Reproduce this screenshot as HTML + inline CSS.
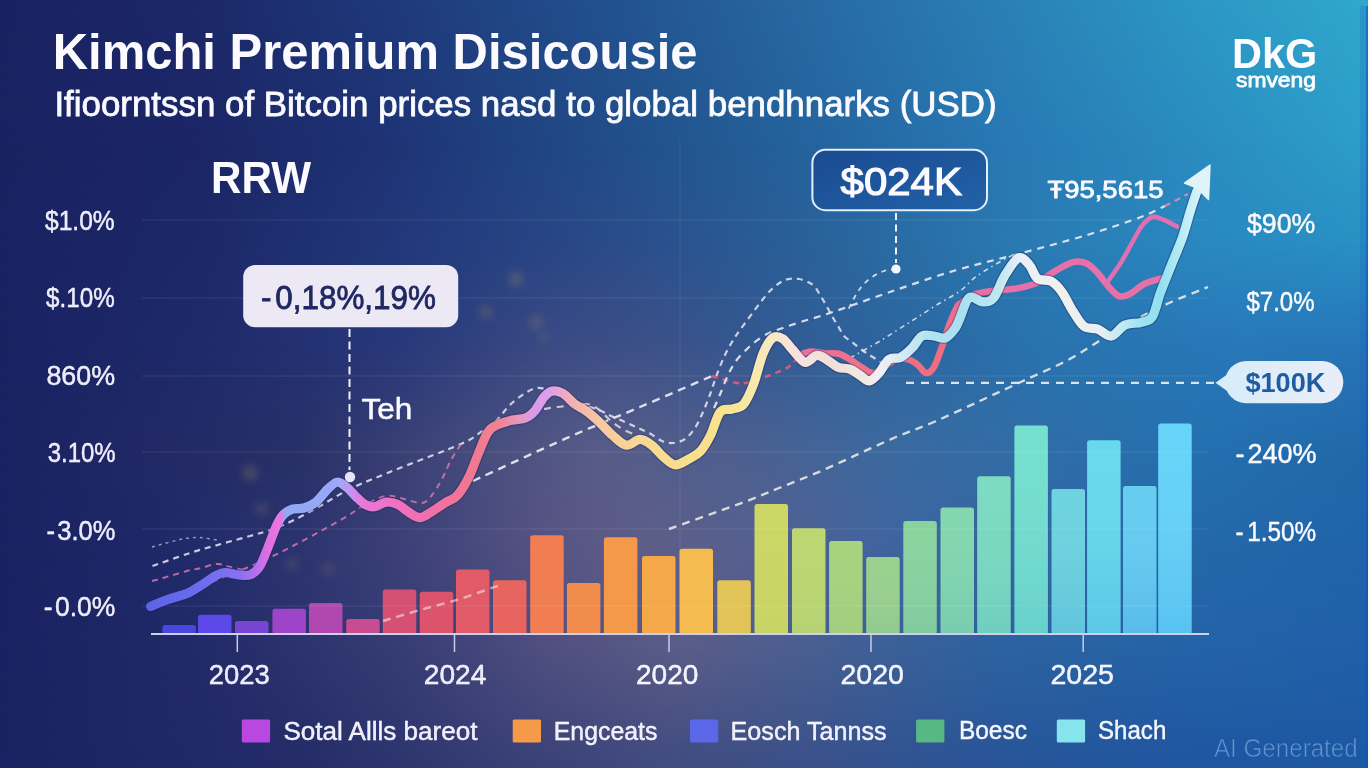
<!DOCTYPE html>
<html><head><meta charset="utf-8"><title>Kimchi Premium</title>
<style>
html,body{margin:0;padding:0;width:1368px;height:768px;overflow:hidden;background:#1a2462}
.bgl{position:absolute;left:0;top:0;width:1368px;height:768px}
svg{position:absolute;left:0;top:0}
text{font-family:"Liberation Sans","DejaVu Sans",sans-serif}
</style></head><body>
<div class="bgl" style="background:linear-gradient(90deg,#1a2262 0px,#1c2868 200px,#1f3a7c 400px,#22508e 600px,#2868a2 800px,#2a80b4 1000px,#2c98c4 1200px,#30a8cc 1368px);"></div>
<div class="bgl" style="background:linear-gradient(90deg,#1a2262 0px,#1b2666 200px,#1e3274 380px,#22568f 684px,#2878b4 1000px,#2a8cc0 1200px,#2c9ec8 1368px);-webkit-mask-image:linear-gradient(180deg, transparent 0px, #000 145px);mask-image:linear-gradient(180deg, transparent 0px, #000 145px);"></div>
<div class="bgl" style="background:linear-gradient(90deg,#1a2262 0px,#1c2868 200px,#22387a 400px,#2a4a88 600px,#2a6098 800px,#2a78b0 1000px,#2a88c0 1200px,#2890c4 1368px);-webkit-mask-image:linear-gradient(180deg, transparent 145px, #000 245px);mask-image:linear-gradient(180deg, transparent 145px, #000 245px);"></div>
<div class="bgl" style="background:linear-gradient(90deg,#1a2262 0px,#1e2a6a 200px,#28387a 400px,#3a4a84 550px,#3c5088 650px,#345890 750px,#2c66a0 900px,#2874b0 1050px,#2878b8 1250px,#2676b8 1368px);-webkit-mask-image:linear-gradient(180deg, transparent 245px, #000 342px);mask-image:linear-gradient(180deg, transparent 245px, #000 342px);"></div>
<div class="bgl" style="background:linear-gradient(90deg,#1a2262 0px,#283068 300px,#4a5080 500px,#585c88 600px,#4c6090 750px,#3a6aa0 900px,#2470b0 1200px,#2268a8 1368px);-webkit-mask-image:linear-gradient(180deg, transparent 342px, #000 450px);mask-image:linear-gradient(180deg, transparent 342px, #000 450px);"></div>
<div class="bgl" style="background:linear-gradient(90deg,#1a2262 0px,#1e2868 150px,#2c3470 300px,#44467c 450px,#585484 550px,#5e5e88 650px,#566090 750px,#3e64a0 900px,#2468a8 1200px,#2064a8 1368px);-webkit-mask-image:linear-gradient(180deg, transparent 450px, #000 548px);mask-image:linear-gradient(180deg, transparent 450px, #000 548px);"></div>
<div class="bgl" style="background:linear-gradient(90deg,#1a2262 0px,#222a68 200px,#363c74 400px,#504f80 550px,#5a5c88 680px,#4a5e90 800px,#3a6098 900px,#2c62a0 1000px,#2462a8 1200px,#2060a8 1368px);-webkit-mask-image:linear-gradient(180deg, transparent 548px, #000 650px);mask-image:linear-gradient(180deg, transparent 548px, #000 650px);"></div>
<div class="bgl" style="background:linear-gradient(90deg,#1a2262 0px,#242c68 300px,#363e74 500px,#404a7e 650px,#3a5088 800px,#285498 1000px,#1e56a0 1200px,#1c58a0 1368px);-webkit-mask-image:linear-gradient(180deg, transparent 650px, #000 768px);mask-image:linear-gradient(180deg, transparent 650px, #000 768px);"></div>
<svg width="1368" height="768" viewBox="0 0 1368 768">
<defs>
<linearGradient id="lineg" gradientUnits="userSpaceOnUse" x1="150" y1="0" x2="1210" y2="0">
<stop offset="0.0000" stop-color="#5c64e4"/>
<stop offset="0.0472" stop-color="#6a6cf0"/>
<stop offset="0.0849" stop-color="#8a70f0"/>
<stop offset="0.0991" stop-color="#b070f0"/>
<stop offset="0.1113" stop-color="#e070e0"/>
<stop offset="0.1236" stop-color="#e878e0"/>
<stop offset="0.1274" stop-color="#92a8f2"/>
<stop offset="0.1698" stop-color="#98a8f8"/>
<stop offset="0.1792" stop-color="#a4a8f8"/>
<stop offset="0.1906" stop-color="#c890f0"/>
<stop offset="0.2000" stop-color="#e878d8"/>
<stop offset="0.2358" stop-color="#f070c0"/>
<stop offset="0.2642" stop-color="#f070a8"/>
<stop offset="0.3019" stop-color="#f07890"/>
<stop offset="0.3302" stop-color="#f08494"/>
<stop offset="0.3491" stop-color="#e898c0"/>
<stop offset="0.3632" stop-color="#d89ae8"/>
<stop offset="0.3792" stop-color="#e0a0e8"/>
<stop offset="0.3962" stop-color="#f0b0b0"/>
<stop offset="0.4245" stop-color="#f8c8a0"/>
<stop offset="0.4623" stop-color="#f8d894"/>
<stop offset="0.5189" stop-color="#f8e08c"/>
<stop offset="0.5472" stop-color="#f8e490"/>
<stop offset="0.5660" stop-color="#f8e8a8"/>
<stop offset="0.5896" stop-color="#f8e8c8"/>
<stop offset="0.6132" stop-color="#f8e0e0"/>
<stop offset="0.6415" stop-color="#f0e0d8"/>
<stop offset="0.6698" stop-color="#f0e8e0"/>
<stop offset="0.6887" stop-color="#f0f0f4"/>
<stop offset="0.7170" stop-color="#c8e8f4"/>
<stop offset="0.7358" stop-color="#b0e4f0"/>
<stop offset="0.7642" stop-color="#a8e0f0"/>
<stop offset="0.8019" stop-color="#c0e8f0"/>
<stop offset="0.8208" stop-color="#e8f0f8"/>
<stop offset="0.8585" stop-color="#f0f0ec"/>
<stop offset="0.8962" stop-color="#e8f0f4"/>
<stop offset="0.9340" stop-color="#a0e4f0"/>
<stop offset="0.9528" stop-color="#90e0f0"/>
<stop offset="0.9811" stop-color="#c8f0f8"/>
<stop offset="1.0000" stop-color="#e0f4f8"/>
</linearGradient>
<linearGradient id="pinkg" gradientUnits="userSpaceOnUse" x1="799" y1="0" x2="1180" y2="0">
<stop offset="0" stop-color="#e8709c"/><stop offset="0.2" stop-color="#f07088"/><stop offset="0.36" stop-color="#f06c80"/><stop offset="0.5" stop-color="#e870a8"/><stop offset="1" stop-color="#e870a8"/>
</linearGradient>
<linearGradient id="barov" x1="0" y1="0" x2="0" y2="1">
<stop offset="0" stop-color="#ffffff" stop-opacity="0.04"/><stop offset="1" stop-color="#2f6cc8" stop-opacity="0.16"/>
</linearGradient>
<linearGradient id="box2" x1="0" y1="0" x2="1" y2="1"><stop offset="0" stop-color="#1a4a90"/><stop offset="1" stop-color="#2262a8"/></linearGradient>
<linearGradient id="box3" x1="0" y1="0" x2="1" y2="0"><stop offset="0" stop-color="#d8ecfa"/><stop offset="1" stop-color="#e8eef8"/></linearGradient>
<filter id="soft" x="-50%" y="-50%" width="200%" height="200%"><feGaussianBlur stdDeviation="5"/></filter>
</defs>
<circle cx="250" cy="473" r="7" fill="#b09a60" opacity="0.30" filter="url(#soft)"/>
<circle cx="262" cy="509" r="6" fill="#b09a60" opacity="0.25" filter="url(#soft)"/>
<circle cx="292" cy="564" r="6" fill="#b09a60" opacity="0.20" filter="url(#soft)"/>
<circle cx="328" cy="569" r="6" fill="#b09a60" opacity="0.20" filter="url(#soft)"/>
<circle cx="516" cy="279" r="7" fill="#b09a60" opacity="0.32" filter="url(#soft)"/>
<circle cx="486" cy="312" r="6" fill="#b09a60" opacity="0.30" filter="url(#soft)"/>
<circle cx="536" cy="322" r="6" fill="#b09a60" opacity="0.32" filter="url(#soft)"/>
<circle cx="544" cy="338" r="4" fill="#b09a60" opacity="0.25" filter="url(#soft)"/>
<line x1="680" y1="140" x2="680" y2="632" stroke="#ffffff" stroke-opacity="0.07" stroke-width="1.2"/>
<rect x="162.4" y="625.1" width="33.5" height="8.9" rx="2.5" fill="#4a46e0"/>
<rect x="198.0" y="614.8" width="33.5" height="19.2" rx="2.5" fill="#5a48e8"/>
<rect x="235.0" y="621.0" width="33.5" height="13.0" rx="2.5" fill="#7a44d2"/>
<rect x="272.4" y="608.7" width="33.5" height="25.3" rx="2.5" fill="#9e44c8"/>
<rect x="309.0" y="603.1" width="33.5" height="30.9" rx="2.5" fill="#b048b0"/>
<rect x="346.2" y="619.0" width="33.5" height="15.0" rx="2.5" fill="#c84c92"/>
<rect x="382.8" y="589.4" width="33.5" height="44.6" rx="2.5" fill="#d65074"/>
<rect x="419.7" y="591.7" width="33.5" height="42.3" rx="2.5" fill="#dc546c"/>
<rect x="456.0" y="569.4" width="33.5" height="64.6" rx="2.5" fill="#e05a68"/>
<rect x="493.0" y="580.3" width="33.5" height="53.7" rx="2.5" fill="#e8645e"/>
<rect x="530.2" y="535.3" width="33.5" height="98.7" rx="2.5" fill="#f07e52"/>
<rect x="566.9" y="583.1" width="33.5" height="50.9" rx="2.5" fill="#f28c4c"/>
<rect x="603.9" y="537.3" width="33.5" height="96.7" rx="2.5" fill="#f4984a"/>
<rect x="642.0" y="555.9" width="33.5" height="78.1" rx="2.5" fill="#f4a84a"/>
<rect x="679.5" y="548.7" width="33.5" height="85.3" rx="2.5" fill="#f4bc50"/>
<rect x="717.3" y="580.3" width="33.5" height="53.7" rx="2.5" fill="#e2c458"/>
<rect x="717.3" y="580.3" width="33.5" height="53.7" rx="2.5" fill="url(#barov)" opacity="0.04"/>
<rect x="754.5" y="504.0" width="33.5" height="130.0" rx="2.5" fill="#ccd664"/>
<rect x="754.5" y="504.0" width="33.5" height="130.0" rx="2.5" fill="url(#barov)" opacity="0.14"/>
<rect x="792.0" y="528.2" width="33.5" height="105.8" rx="2.5" fill="#bcd670"/>
<rect x="792.0" y="528.2" width="33.5" height="105.8" rx="2.5" fill="url(#barov)" opacity="0.23"/>
<rect x="829.1" y="541.1" width="33.5" height="92.9" rx="2.5" fill="#a8d27c"/>
<rect x="829.1" y="541.1" width="33.5" height="92.9" rx="2.5" fill="url(#barov)" opacity="0.32"/>
<rect x="866.2" y="557.1" width="33.5" height="76.9" rx="2.5" fill="#98d08c"/>
<rect x="866.2" y="557.1" width="33.5" height="76.9" rx="2.5" fill="url(#barov)" opacity="0.42"/>
<rect x="903.3" y="521.1" width="33.5" height="112.9" rx="2.5" fill="#88d29c"/>
<rect x="903.3" y="521.1" width="33.5" height="112.9" rx="2.5" fill="url(#barov)" opacity="0.51"/>
<rect x="940.5" y="507.5" width="33.5" height="126.5" rx="2.5" fill="#80d6ac"/>
<rect x="940.5" y="507.5" width="33.5" height="126.5" rx="2.5" fill="url(#barov)" opacity="0.60"/>
<rect x="977.2" y="476.2" width="33.5" height="157.8" rx="2.5" fill="#78dabe"/>
<rect x="977.2" y="476.2" width="33.5" height="157.8" rx="2.5" fill="url(#barov)" opacity="0.69"/>
<rect x="1014.4" y="425.4" width="33.5" height="208.6" rx="2.5" fill="#70dfcc"/>
<rect x="1014.4" y="425.4" width="33.5" height="208.6" rx="2.5" fill="url(#barov)" opacity="0.79"/>
<rect x="1051.5" y="489.0" width="33.5" height="145.0" rx="2.5" fill="#68d2de"/>
<rect x="1051.5" y="489.0" width="33.5" height="145.0" rx="2.5" fill="url(#barov)" opacity="0.88"/>
<rect x="1087.1" y="440.2" width="33.5" height="193.8" rx="2.5" fill="#62d8ec"/>
<rect x="1087.1" y="440.2" width="33.5" height="193.8" rx="2.5" fill="url(#barov)" opacity="0.97"/>
<rect x="1123.0" y="486.0" width="33.5" height="148.0" rx="2.5" fill="#60caf0"/>
<rect x="1123.0" y="486.0" width="33.5" height="148.0" rx="2.5" fill="url(#barov)" opacity="1.00"/>
<rect x="1158.2" y="423.4" width="33.5" height="210.6" rx="2.5" fill="#60d2f8"/>
<rect x="1158.2" y="423.4" width="33.5" height="210.6" rx="2.5" fill="url(#barov)" opacity="1.00"/>
<line x1="142" y1="220" x2="1207" y2="220" stroke="#ffffff" stroke-opacity="0.10" stroke-width="1.2"/>
<line x1="142" y1="298" x2="1207" y2="298" stroke="#ffffff" stroke-opacity="0.10" stroke-width="1.2"/>
<line x1="142" y1="376" x2="1207" y2="376" stroke="#ffffff" stroke-opacity="0.10" stroke-width="1.2"/>
<line x1="142" y1="452" x2="1207" y2="452" stroke="#ffffff" stroke-opacity="0.10" stroke-width="1.2"/>
<line x1="142" y1="529" x2="1207" y2="529" stroke="#ffffff" stroke-opacity="0.10" stroke-width="1.2"/>
<line x1="142" y1="606" x2="1207" y2="606" stroke="#ffffff" stroke-opacity="0.10" stroke-width="1.2"/>
<line x1="151" y1="634" x2="1209" y2="634" stroke="#cdd0ea" stroke-width="2"/>
<line x1="237.3" y1="635" x2="237.3" y2="652" stroke="#c8cce4" stroke-width="1.5"/>
<line x1="454.5" y1="635" x2="454.5" y2="652" stroke="#c8cce4" stroke-width="1.5"/>
<line x1="669.0" y1="635" x2="669.0" y2="652" stroke="#c8cce4" stroke-width="1.5"/>
<line x1="871.0" y1="635" x2="871.0" y2="652" stroke="#c8cce4" stroke-width="1.5"/>
<line x1="1083.2" y1="635" x2="1083.2" y2="652" stroke="#c8cce4" stroke-width="1.5"/>
<path d="M152.5,566.0 C158.8,563.8 178.2,556.8 190.0,553.0 C201.8,549.2 213.0,546.3 223.0,543.5 C233.0,540.7 242.2,538.2 250.0,536.0 C257.8,533.8 263.0,532.5 270.0,530.0 C277.0,527.5 283.7,525.0 292.0,521.0 C300.3,517.0 310.0,511.5 320.0,506.0 C330.0,500.5 338.7,494.3 352.0,488.0 C365.3,481.7 381.8,475.3 400.0,468.0 C418.2,460.7 447.5,450.0 461.0,444.0 C474.5,438.0 475.2,435.8 481.0,432.0 C486.8,428.2 490.8,425.8 496.0,421.0 C501.2,416.2 505.8,408.3 512.0,403.0 C518.2,397.7 527.0,391.2 533.0,389.0 C539.0,386.8 541.2,387.8 548.0,390.0 C554.8,392.2 565.5,398.7 574.0,402.0 C582.5,405.3 592.8,407.7 599.0,410.0 C605.2,412.3 606.7,414.0 611.0,416.0 C615.3,418.0 620.5,420.0 625.0,422.0 C629.5,424.0 633.8,426.1 638.0,428.0 C642.2,429.9 646.0,431.3 650.0,433.5 C654.0,435.7 658.2,439.4 662.0,441.0 C665.8,442.6 669.2,443.3 673.0,443.0 C676.8,442.7 681.3,441.5 685.0,439.0 C688.7,436.5 692.0,432.5 695.0,428.0 C698.0,423.5 700.5,417.6 703.0,412.0 C705.5,406.4 707.8,400.3 710.0,394.5 C712.2,388.7 713.7,383.2 716.0,377.0 C718.3,370.8 721.3,362.8 724.0,357.0 C726.7,351.2 729.3,346.5 732.0,342.0 C734.7,337.5 735.3,336.5 740.0,330.0 C744.7,323.5 754.7,309.8 760.0,303.0 C765.3,296.2 767.8,292.8 772.0,289.0 C776.2,285.2 780.5,281.7 785.0,280.0 C789.5,278.3 794.3,278.2 799.0,279.0 C803.7,279.8 809.5,282.3 813.0,285.0 C816.5,287.7 817.8,291.7 820.0,295.0 C822.2,298.3 824.0,301.5 826.0,305.0 C828.0,308.5 830.0,312.5 832.0,316.0 C834.0,319.5 836.0,322.7 838.0,326.0 C840.0,329.3 841.7,333.3 844.0,336.0 C846.3,338.7 849.0,339.7 852.0,342.0 C855.0,344.3 858.8,347.7 862.0,350.0 C865.2,352.3 868.2,354.2 871.0,356.0 C873.8,357.8 876.7,359.5 879.0,361.0 C881.3,362.5 884.0,364.3 885.0,365.0" fill="none" stroke="#e8e6f6" stroke-width="2.2" stroke-dasharray="6 5" stroke-opacity="0.85" stroke-linecap="butt"/>
<path d="M152.0,581.0 C153.8,580.5 157.2,579.7 163.0,578.0 C168.8,576.3 180.7,572.7 187.0,571.0 C193.3,569.3 196.0,569.2 201.0,568.0 C206.0,566.8 212.3,564.2 217.0,564.0 C221.7,563.8 224.7,565.6 229.0,566.6 C233.3,567.6 240.7,569.4 243.0,570.0" fill="none" stroke="#d070a8" stroke-width="2.0" stroke-dasharray="6 5" stroke-opacity="0.90" stroke-linecap="butt"/>
<path d="M212.0,582.0 C221.8,577.8 249.8,567.2 271.0,557.0 C292.2,546.8 323.7,529.5 339.0,521.0 C354.3,512.5 355.2,510.2 363.0,506.0 C370.8,501.8 379.2,497.2 386.0,496.0 C392.8,494.8 398.0,497.8 404.0,499.0 C410.0,500.2 417.3,503.7 422.0,503.0 C426.7,502.3 428.7,499.0 432.0,495.0 C435.3,491.0 438.8,484.8 442.0,479.0 C445.2,473.2 447.8,465.8 451.0,460.0 C454.2,454.2 459.3,446.7 461.0,444.0" fill="none" stroke="#d877a8" stroke-width="2.0" stroke-dasharray="6 5" stroke-opacity="0.85" stroke-linecap="butt"/>
<path d="M152.0,547.0 C155.0,546.2 164.5,543.4 170.0,542.0 C175.5,540.6 180.0,539.2 185.0,538.5 C190.0,537.8 194.7,537.2 200.0,537.5 C205.3,537.8 214.2,539.6 217.0,540.0" fill="none" stroke="#c8c8f0" stroke-width="1.4" stroke-dasharray="3 4" stroke-opacity="0.70" stroke-linecap="butt"/>
<path d="M473.0,481.0 C488.5,473.9 538.2,450.7 566.0,438.4 C593.8,426.1 615.7,417.4 640.0,407.0 C664.3,396.6 700.0,381.2 712.0,376.0" fill="none" stroke="#f0eef4" stroke-width="2.4" stroke-dasharray="8 6" stroke-opacity="0.90" stroke-linecap="butt"/>
<path d="M712.0,376.0 C715.3,377.0 726.3,380.8 732.0,382.0 C737.7,383.2 740.5,383.8 746.0,383.0 C751.5,382.2 758.5,379.3 765.0,377.0 C771.5,374.7 780.3,371.3 785.0,369.0 C789.7,366.7 790.7,365.2 793.0,363.0 C795.3,360.8 798.0,357.2 799.0,356.0" fill="none" stroke="#e05a80" stroke-width="2.6" stroke-dasharray="6 5" stroke-opacity="0.95" stroke-linecap="butt"/>
<path d="M544.0,409.0 C546.3,408.7 551.0,407.8 558.0,407.0 C565.0,406.2 579.3,403.7 586.0,404.0 C592.7,404.3 594.0,406.3 598.0,409.0 C602.0,411.7 605.7,416.5 610.0,420.0 C614.3,423.5 619.3,427.4 624.0,430.0 C628.7,432.6 635.7,434.6 638.0,435.5" fill="none" stroke="#f0d8d0" stroke-width="2.2" stroke-dasharray="7 6" stroke-opacity="0.85" stroke-linecap="butt"/>
<path d="M714.0,408.0 C715.0,405.8 717.7,400.0 720.0,394.5 C722.3,389.0 725.3,380.6 728.0,375.0 C730.7,369.4 733.0,365.2 736.0,361.0 C739.0,356.8 742.8,353.2 746.0,350.0 C749.2,346.8 751.5,344.7 755.0,342.0 C758.5,339.3 763.3,336.0 767.0,334.0 C770.7,332.0 771.7,331.9 777.0,330.0 C782.3,328.1 790.2,325.3 799.0,322.5 C807.8,319.7 814.8,318.1 830.0,313.0 C845.2,307.9 869.2,299.1 890.0,292.0 C910.8,284.9 933.7,276.8 955.0,270.5 C976.3,264.2 996.0,259.9 1018.0,254.0 C1040.0,248.1 1066.5,241.2 1087.0,235.0 C1107.5,228.8 1128.0,221.8 1141.0,217.0 C1154.0,212.2 1161.0,207.8 1165.0,206.0" fill="none" stroke="#ecebf4" stroke-width="2.2" stroke-dasharray="7 6" stroke-opacity="0.90" stroke-linecap="butt"/>
<path d="M1165.0,206.0 L1188.0,194.0" fill="none" stroke="#e888b0" stroke-width="2.2" stroke-dasharray="6 5" stroke-opacity="0.90" stroke-linecap="butt"/>
<path d="M850.0,358.0 C855.0,355.2 870.0,347.0 880.0,341.0 C890.0,335.0 900.8,327.8 910.0,322.0 C919.2,316.2 926.7,311.2 935.0,306.0 C943.3,300.8 953.0,296.0 960.0,291.0 C967.0,286.0 969.5,281.3 977.0,276.0 C984.5,270.7 998.2,262.7 1005.0,259.0 C1011.8,255.3 1015.8,254.8 1018.0,254.0" fill="none" stroke="#e8ecf6" stroke-width="1.6" stroke-dasharray="5 4 1.5 4" stroke-opacity="0.85" stroke-linecap="butt"/>
<path d="M383.0,621.0 C389.2,619.2 407.2,613.7 420.0,610.0 C432.8,606.3 446.7,603.2 460.0,599.0 C473.3,594.8 493.3,587.3 500.0,585.0" fill="none" stroke="#f4e8f0" stroke-width="2.4" stroke-dasharray="8 6" stroke-opacity="0.60" stroke-linecap="butt"/>
<path d="M669.0,529.0 C680.8,524.8 721.7,510.4 740.0,503.6 C758.3,496.8 766.0,493.2 779.0,488.0 C792.0,482.8 805.0,477.9 818.0,472.3 C831.0,466.8 844.0,460.6 857.0,454.7 C870.0,448.8 883.0,442.5 896.0,437.0 C909.0,431.5 920.7,427.7 935.0,421.5 C949.3,415.3 967.0,406.9 982.0,400.0 C997.0,393.1 1010.7,386.7 1025.0,380.0 C1039.3,373.3 1055.0,366.9 1068.0,360.0 C1081.0,353.1 1091.7,345.4 1103.0,338.7 C1114.3,331.9 1125.0,325.4 1136.0,319.5 C1147.0,313.6 1157.0,308.4 1169.0,303.0 C1181.0,297.6 1201.5,289.7 1208.0,287.0" fill="none" stroke="#f2f0e8" stroke-width="2.4" stroke-dasharray="8 6" stroke-opacity="0.85" stroke-linecap="butt"/>
<path d="M896.0,269.0 C894.0,269.3 888.0,269.7 884.0,271.0 C880.0,272.3 875.5,274.7 872.0,277.0 C868.5,279.3 865.5,282.3 863.0,285.0 C860.5,287.7 858.8,290.2 857.0,293.0 C855.2,295.8 853.5,299.2 852.0,302.0 C850.5,304.8 848.7,308.7 848.0,310.0" fill="none" stroke="#e8eef8" stroke-width="1.8" stroke-dasharray="5 5" stroke-opacity="0.85" stroke-linecap="butt"/>
<path d="M906,382.8 L1216,382.8" stroke="#eef2f8" stroke-width="2.2" stroke-dasharray="8 7" fill="none" opacity="0.9"/>
<path d="M896,213 L896,263" stroke="#eef2f8" stroke-width="2" stroke-dasharray="7 4.5" fill="none"/>
<path d="M349.5,329 L349.5,470" stroke="#eef0fa" stroke-width="2" stroke-dasharray="8 4.5" fill="none"/>
<path d="M799.0,355.5 C801.0,354.9 806.5,351.9 810.8,351.6 C815.0,351.3 820.0,353.2 824.5,353.5 C829.0,353.8 833.9,352.5 838.1,353.5 C842.3,354.5 845.9,357.1 849.8,359.4 C853.7,361.7 857.7,364.9 861.6,367.2 C865.5,369.5 869.4,373.2 873.3,373.0 C877.2,372.8 881.0,368.3 885.0,366.0 C889.0,363.7 893.1,360.1 897.0,359.0 C900.9,357.9 904.9,358.4 908.4,359.4 C911.9,360.4 915.3,362.9 918.2,365.2 C921.1,367.5 923.4,372.7 926.0,373.0 C928.6,373.3 931.2,371.4 933.8,367.2 C936.4,363.0 939.0,354.9 941.6,347.7 C944.2,340.5 946.9,331.0 949.5,324.2 C952.1,317.4 955.4,310.1 957.3,306.6 C959.2,303.1 957.7,305.3 961.0,303.1 C964.3,300.9 971.8,295.7 977.3,293.6 C982.8,291.6 986.9,291.7 993.8,290.8 C1000.6,289.9 1011.1,289.5 1018.4,288.1 C1025.7,286.7 1031.6,285.3 1037.5,282.6 C1043.4,279.9 1048.0,275.1 1053.9,271.7 C1059.8,268.3 1067.5,263.5 1073.0,262.1 C1078.5,260.7 1082.6,261.7 1086.7,263.5 C1090.8,265.3 1094.1,269.1 1097.7,273.0 C1101.3,276.9 1105.0,282.8 1108.6,286.7 C1112.2,290.6 1115.8,295.1 1119.5,296.3 C1123.2,297.5 1126.4,295.7 1130.5,293.6 C1134.6,291.6 1139.1,286.5 1144.1,284.0 C1149.1,281.5 1157.8,279.4 1160.6,278.5" fill="none" stroke="url(#pinkg)" stroke-width="6.5" stroke-linecap="round" stroke-linejoin="round"/>
<path d="M1106.0,284.0 C1108.2,280.8 1115.4,271.2 1119.5,264.8 C1123.6,258.4 1126.8,252.1 1130.5,245.7 C1134.2,239.3 1137.8,231.4 1141.4,226.6 C1145.0,221.8 1148.7,218.2 1152.3,217.0 C1155.9,215.8 1159.2,218.1 1163.3,219.7 C1167.4,221.3 1174.7,225.4 1177.0,226.6" fill="none" stroke="#e070b0" stroke-width="4.5" stroke-linecap="round" stroke-linejoin="round"/>
<path d="M150.6,606.5 C153.5,605.3 162.0,601.5 168.1,599.4 C174.2,597.2 181.4,595.9 186.9,593.6 C192.4,591.3 196.3,588.3 201.0,585.4 C205.7,582.5 211.1,578.1 215.0,576.0 C218.9,573.9 220.5,572.7 224.4,572.5 C228.3,572.3 234.2,574.4 238.5,574.8 C242.8,575.2 246.7,576.2 250.2,574.8 C253.7,573.4 256.7,571.1 259.6,566.6 C262.5,562.1 265.1,554.5 267.8,547.9 C270.5,541.3 273.5,532.3 276.0,526.8 C278.5,521.3 280.3,517.9 283.0,515.0 C285.7,512.1 288.9,510.4 292.4,509.2 C295.9,508.0 300.2,509.2 304.1,508.0 C308.0,506.8 312.0,505.2 315.9,502.1 C319.8,499.0 324.1,492.5 327.6,489.2 C331.1,485.9 333.9,482.6 337.0,482.2 C340.1,481.8 343.2,484.5 346.3,486.9 C349.4,489.2 352.6,493.4 355.7,496.3 C358.8,499.2 362.0,502.8 365.1,504.5 C368.2,506.2 371.0,507.2 374.5,506.8 C378.0,506.4 382.3,502.5 386.2,502.1 C390.1,501.7 394.2,502.9 397.9,504.5 C401.5,506.1 404.4,509.6 408.1,511.8 C411.8,514.0 416.0,517.6 419.9,517.6 C423.8,517.6 427.3,514.3 431.6,511.8 C435.9,509.3 441.4,505.1 445.7,502.4 C450.0,499.7 453.5,499.7 457.4,495.4 C461.3,491.1 465.6,483.6 469.1,476.6 C472.6,469.6 475.4,460.6 478.5,453.2 C481.6,445.8 484.8,436.8 487.9,432.1 C491.0,427.4 493.3,427.0 497.2,425.0 C501.1,423.0 506.6,421.5 511.3,420.3 C516.0,419.1 521.5,419.6 525.4,418.0 C529.3,416.4 531.6,414.5 534.7,411.0 C537.8,407.5 541.2,400.2 544.1,396.9 C547.0,393.6 549.2,391.6 552.3,391.0 C555.4,390.4 559.2,391.2 562.9,393.4 C566.6,395.5 570.7,401.0 574.6,403.9 C578.5,406.8 582.2,408.0 586.3,411.0 C590.4,414.0 594.6,417.7 599.0,421.8 C603.4,425.9 608.1,431.6 612.7,435.5 C617.3,439.4 621.9,444.6 626.4,445.2 C630.9,445.8 635.8,439.4 640.0,439.4 C644.2,439.4 647.9,442.3 651.8,445.2 C655.7,448.1 659.6,453.7 663.5,457.0 C667.4,460.3 671.0,464.5 675.2,464.8 C679.5,465.1 684.8,461.2 689.0,458.9 C693.2,456.6 697.0,455.0 700.6,451.1 C704.2,447.2 707.1,442.0 710.4,435.5 C713.7,429.0 716.6,416.4 720.2,412.0 C723.8,407.6 728.0,410.4 731.9,409.1 C735.8,407.8 740.0,408.3 743.6,404.2 C747.2,400.1 750.1,393.2 753.4,384.7 C756.6,376.2 759.9,361.2 763.1,353.4 C766.4,345.6 769.6,340.2 772.9,337.8 C776.2,335.4 779.5,336.9 782.7,338.8 C786.0,340.8 788.7,345.6 792.4,349.5 C796.1,353.4 800.9,361.3 804.9,362.3 C808.9,363.3 813.0,356.0 816.6,355.5 C820.2,355.0 822.8,357.4 826.4,359.4 C830.0,361.3 834.2,365.6 838.1,367.2 C842.0,368.8 846.2,367.8 849.8,369.1 C853.4,370.4 856.3,373.0 859.6,375.0 C862.9,377.0 866.1,381.2 869.4,380.9 C872.6,380.6 875.9,376.6 879.1,373.0 C882.4,369.4 885.3,362.0 888.9,359.4 C892.5,356.8 896.7,359.3 900.6,357.4 C904.5,355.4 908.7,351.3 912.3,347.7 C915.9,344.1 918.5,337.9 922.1,336.0 C925.7,334.1 929.9,335.7 933.8,336.0 C937.7,336.3 941.9,339.2 945.5,337.9 C949.1,336.6 952.9,331.4 955.3,328.1 C957.7,324.8 957.7,323.1 960.0,318.0 C962.3,312.9 965.3,300.4 969.1,297.7 C972.9,295.0 978.7,301.8 982.8,301.8 C986.9,301.8 990.1,302.0 993.8,297.7 C997.4,293.4 1000.6,282.4 1004.7,275.8 C1008.8,269.2 1014.3,259.8 1018.4,258.0 C1022.5,256.2 1026.1,261.4 1029.3,264.8 C1032.5,268.2 1033.8,275.8 1037.5,278.5 C1041.2,281.2 1047.1,279.0 1051.2,281.3 C1055.3,283.6 1058.5,287.2 1062.1,292.2 C1065.7,297.2 1069.3,305.6 1073.0,311.3 C1076.7,317.0 1079.9,323.4 1084.0,326.4 C1088.1,329.4 1093.2,327.5 1097.7,329.1 C1102.2,330.7 1106.8,336.7 1111.3,336.0 C1115.8,335.3 1120.0,327.3 1125.0,325.0 C1130.0,322.7 1136.9,323.7 1141.4,322.3 C1146.0,320.9 1149.1,321.8 1152.3,316.8 C1155.5,311.8 1157.4,300.9 1160.6,292.2 C1163.8,283.5 1167.9,273.9 1171.5,264.8 C1175.1,255.7 1179.2,246.6 1182.4,237.5 C1185.6,228.4 1188.2,217.9 1190.6,210.2 C1193.0,202.4 1195.9,194.2 1197.0,191.0" fill="none" stroke="#1c2258" stroke-opacity="0.35" stroke-width="11.6" stroke-linecap="round" stroke-linejoin="round"/>
<path d="M150.6,606.5 C153.5,605.3 162.0,601.5 168.1,599.4 C174.2,597.2 181.4,595.9 186.9,593.6 C192.4,591.3 196.3,588.3 201.0,585.4 C205.7,582.5 211.1,578.1 215.0,576.0 C218.9,573.9 220.5,572.7 224.4,572.5 C228.3,572.3 234.2,574.4 238.5,574.8 C242.8,575.2 246.7,576.2 250.2,574.8 C253.7,573.4 256.7,571.1 259.6,566.6 C262.5,562.1 265.1,554.5 267.8,547.9 C270.5,541.3 273.5,532.3 276.0,526.8 C278.5,521.3 280.3,517.9 283.0,515.0 C285.7,512.1 288.9,510.4 292.4,509.2 C295.9,508.0 300.2,509.2 304.1,508.0 C308.0,506.8 312.0,505.2 315.9,502.1 C319.8,499.0 324.1,492.5 327.6,489.2 C331.1,485.9 333.9,482.6 337.0,482.2 C340.1,481.8 343.2,484.5 346.3,486.9 C349.4,489.2 352.6,493.4 355.7,496.3 C358.8,499.2 362.0,502.8 365.1,504.5 C368.2,506.2 371.0,507.2 374.5,506.8 C378.0,506.4 382.3,502.5 386.2,502.1 C390.1,501.7 394.2,502.9 397.9,504.5 C401.5,506.1 404.4,509.6 408.1,511.8 C411.8,514.0 416.0,517.6 419.9,517.6 C423.8,517.6 427.3,514.3 431.6,511.8 C435.9,509.3 441.4,505.1 445.7,502.4 C450.0,499.7 453.5,499.7 457.4,495.4 C461.3,491.1 465.6,483.6 469.1,476.6 C472.6,469.6 475.4,460.6 478.5,453.2 C481.6,445.8 484.8,436.8 487.9,432.1 C491.0,427.4 493.3,427.0 497.2,425.0 C501.1,423.0 506.6,421.5 511.3,420.3 C516.0,419.1 521.5,419.6 525.4,418.0 C529.3,416.4 531.6,414.5 534.7,411.0 C537.8,407.5 541.2,400.2 544.1,396.9 C547.0,393.6 549.2,391.6 552.3,391.0 C555.4,390.4 559.2,391.2 562.9,393.4 C566.6,395.5 570.7,401.0 574.6,403.9 C578.5,406.8 582.2,408.0 586.3,411.0 C590.4,414.0 594.6,417.7 599.0,421.8 C603.4,425.9 608.1,431.6 612.7,435.5 C617.3,439.4 621.9,444.6 626.4,445.2 C630.9,445.8 635.8,439.4 640.0,439.4 C644.2,439.4 647.9,442.3 651.8,445.2 C655.7,448.1 659.6,453.7 663.5,457.0 C667.4,460.3 671.0,464.5 675.2,464.8 C679.5,465.1 684.8,461.2 689.0,458.9 C693.2,456.6 697.0,455.0 700.6,451.1 C704.2,447.2 707.1,442.0 710.4,435.5 C713.7,429.0 716.6,416.4 720.2,412.0 C723.8,407.6 728.0,410.4 731.9,409.1 C735.8,407.8 740.0,408.3 743.6,404.2 C747.2,400.1 750.1,393.2 753.4,384.7 C756.6,376.2 759.9,361.2 763.1,353.4 C766.4,345.6 769.6,340.2 772.9,337.8 C776.2,335.4 779.5,336.9 782.7,338.8 C786.0,340.8 788.7,345.6 792.4,349.5 C796.1,353.4 800.9,361.3 804.9,362.3 C808.9,363.3 813.0,356.0 816.6,355.5 C820.2,355.0 822.8,357.4 826.4,359.4 C830.0,361.3 834.2,365.6 838.1,367.2 C842.0,368.8 846.2,367.8 849.8,369.1 C853.4,370.4 856.3,373.0 859.6,375.0 C862.9,377.0 866.1,381.2 869.4,380.9 C872.6,380.6 875.9,376.6 879.1,373.0 C882.4,369.4 885.3,362.0 888.9,359.4 C892.5,356.8 896.7,359.3 900.6,357.4 C904.5,355.4 908.7,351.3 912.3,347.7 C915.9,344.1 918.5,337.9 922.1,336.0 C925.7,334.1 929.9,335.7 933.8,336.0 C937.7,336.3 941.9,339.2 945.5,337.9 C949.1,336.6 952.9,331.4 955.3,328.1 C957.7,324.8 957.7,323.1 960.0,318.0 C962.3,312.9 965.3,300.4 969.1,297.7 C972.9,295.0 978.7,301.8 982.8,301.8 C986.9,301.8 990.1,302.0 993.8,297.7 C997.4,293.4 1000.6,282.4 1004.7,275.8 C1008.8,269.2 1014.3,259.8 1018.4,258.0 C1022.5,256.2 1026.1,261.4 1029.3,264.8 C1032.5,268.2 1033.8,275.8 1037.5,278.5 C1041.2,281.2 1047.1,279.0 1051.2,281.3 C1055.3,283.6 1058.5,287.2 1062.1,292.2 C1065.7,297.2 1069.3,305.6 1073.0,311.3 C1076.7,317.0 1079.9,323.4 1084.0,326.4 C1088.1,329.4 1093.2,327.5 1097.7,329.1 C1102.2,330.7 1106.8,336.7 1111.3,336.0 C1115.8,335.3 1120.0,327.3 1125.0,325.0 C1130.0,322.7 1136.9,323.7 1141.4,322.3 C1146.0,320.9 1149.1,321.8 1152.3,316.8 C1155.5,311.8 1157.4,300.9 1160.6,292.2 C1163.8,283.5 1167.9,273.9 1171.5,264.8 C1175.1,255.7 1179.2,246.6 1182.4,237.5 C1185.6,228.4 1188.2,217.9 1190.6,210.2 C1193.0,202.4 1195.9,194.2 1197.0,191.0" fill="none" stroke="url(#lineg)" stroke-width="9.2" stroke-linecap="round" stroke-linejoin="round"/>
<path d="M1210,165 L1184.5,183 L1197,188 L1208.5,199.5 Z" fill="#e0f4f8" stroke="#e0f4f8" stroke-width="1.5" stroke-linejoin="round"/>
<circle cx="350" cy="477" r="5.2" fill="#e6e4f6"/>
<circle cx="896" cy="269" r="4.6" fill="#f4f6fb"/>
<rect x="243.2" y="265" width="215" height="62.2" rx="12" fill="#ece8f4"/>
<text x="261.1" y="308.8" font-size="33.40" font-weight="normal" fill="#1f2862" textLength="174.8" lengthAdjust="spacingAndGlyphs" stroke="#1f2862" stroke-width="0.8">-<tspan dx="4">0,18%,19%</tspan></text>
<rect x="812.4" y="149.8" width="174.6" height="60.4" rx="13" fill="url(#box2)" stroke="#e4eef8" stroke-width="2"/>
<text x="840.6" y="195.0" font-size="39.40" font-weight="normal" fill="#fbfaff" textLength="121.3" lengthAdjust="spacingAndGlyphs" stroke="#fbfaff" stroke-width="1.2">$024K</text>
<path d="M1215.5,382.7 L1230,372.5 L1230,393 Z" fill="#d8ecfa"/>
<rect x="1225" y="361.1" width="118.3" height="42.1" rx="21" fill="url(#box3)"/>
<text x="1245.4" y="392.1" font-size="27.20" font-weight="bold" fill="#1f5ca2" textLength="80.0" lengthAdjust="spacingAndGlyphs" >$100K</text>
<text x="52.7" y="68.7" font-size="50.50" font-weight="bold" fill="#fbfaff" textLength="644.8" lengthAdjust="spacingAndGlyphs" >Kimchi Premium Disicousie</text>
<text x="54.4" y="116.4" font-size="34.30" font-weight="normal" fill="#fbfaff" textLength="942.2" lengthAdjust="spacingAndGlyphs" stroke="#fbfaff" stroke-width="0.8">Ifioorntssn of Bitcoin prices nasd to global bendhnarks (USD)</text>
<text x="211.1" y="193.0" font-size="43.50" font-weight="bold" fill="#fbfaff" textLength="100.0" lengthAdjust="spacingAndGlyphs" >RRW</text>
<text x="1232.0" y="68.3" font-size="42.00" font-weight="bold" fill="#fdfcff" textLength="85.3" lengthAdjust="spacingAndGlyphs" >DkG</text>
<text x="1236.0" y="87.0" font-size="20.80" font-weight="normal" fill="#fdfcff" textLength="79.9" lengthAdjust="spacingAndGlyphs" stroke="#fdfcff" stroke-width="0.8">smveng</text>
<text x="1047.4" y="197.5" font-size="24.80" font-weight="normal" fill="#fbfaff" textLength="116.1" lengthAdjust="spacingAndGlyphs" stroke="#fbfaff" stroke-width="0.8">Ŧ95,5615</text>
<text x="361.6" y="419.3" font-size="29.40" font-weight="normal" fill="#fbfaff" textLength="50.7" lengthAdjust="spacingAndGlyphs" stroke="#fbfaff" stroke-width="0.5">Teh</text>
<text x="45.0" y="229.7" font-size="27.50" font-weight="normal" fill="#eceafc" textLength="69.7" lengthAdjust="spacingAndGlyphs" stroke="#ffffff" stroke-width="0.4">$1.0%</text>
<text x="46.0" y="306.5" font-size="27.50" font-weight="normal" fill="#eceafc" textLength="68.7" lengthAdjust="spacingAndGlyphs" stroke="#ffffff" stroke-width="0.4">$.10%</text>
<text x="46.4" y="385.0" font-size="27.50" font-weight="normal" fill="#eceafc" textLength="68.7" lengthAdjust="spacingAndGlyphs" stroke="#ffffff" stroke-width="0.4">860%</text>
<text x="47.7" y="462.0" font-size="27.50" font-weight="normal" fill="#eceafc" textLength="67.9" lengthAdjust="spacingAndGlyphs" stroke="#ffffff" stroke-width="0.4">3.10%</text>
<text x="46.5" y="539.7" font-size="27.50" font-weight="normal" fill="#eceafc" textLength="69.0" lengthAdjust="spacingAndGlyphs" stroke="#ffffff" stroke-width="0.4">-<tspan dx="2.5">3.0%</tspan></text>
<text x="43.8" y="616.3" font-size="27.50" font-weight="normal" fill="#eceafc" textLength="71.5" lengthAdjust="spacingAndGlyphs" stroke="#ffffff" stroke-width="0.4">-<tspan dx="2.5">0.0%</tspan></text>
<text x="1247.0" y="233.4" font-size="27.30" font-weight="normal" fill="#fbfaff" textLength="68.4" lengthAdjust="spacingAndGlyphs" stroke="#ffffff" stroke-width="0.4">$90%</text>
<text x="1246.4" y="310.5" font-size="27.30" font-weight="normal" fill="#fbfaff" textLength="68.2" lengthAdjust="spacingAndGlyphs" stroke="#ffffff" stroke-width="0.4">$7.0%</text>
<text x="1235.4" y="463.4" font-size="27.30" font-weight="normal" fill="#fbfaff" textLength="81.2" lengthAdjust="spacingAndGlyphs" stroke="#ffffff" stroke-width="0.4">-<tspan dx="3">240%</tspan></text>
<text x="1235.5" y="540.5" font-size="27.30" font-weight="normal" fill="#fbfaff" textLength="80.6" lengthAdjust="spacingAndGlyphs" stroke="#ffffff" stroke-width="0.4">-<tspan dx="4">1.50%</tspan></text>
<text x="208.8" y="683.8" font-size="27.50" font-weight="normal" fill="#eceafc" textLength="61.0" lengthAdjust="spacingAndGlyphs" stroke="#ffffff" stroke-width="0.4">2023</text>
<text x="423.8" y="683.8" font-size="27.50" font-weight="normal" fill="#eceafc" textLength="62.6" lengthAdjust="spacingAndGlyphs" stroke="#ffffff" stroke-width="0.4">2024</text>
<text x="636.0" y="683.8" font-size="27.50" font-weight="normal" fill="#f4f2fc" textLength="62.4" lengthAdjust="spacingAndGlyphs" stroke="#ffffff" stroke-width="0.4">2020</text>
<text x="840.4" y="683.8" font-size="27.50" font-weight="normal" fill="#f4f2fc" textLength="63.5" lengthAdjust="spacingAndGlyphs" stroke="#ffffff" stroke-width="0.4">2020</text>
<text x="1050.4" y="683.8" font-size="27.50" font-weight="normal" fill="#f4f2fc" textLength="63.5" lengthAdjust="spacingAndGlyphs" stroke="#ffffff" stroke-width="0.4">2025</text>
<text x="283.4" y="739.5" font-size="25.40" font-weight="normal" fill="#f0eefc" textLength="194.0" lengthAdjust="spacingAndGlyphs" stroke="#ffffff" stroke-width="0.4">Sotal Allls bareot</text>
<text x="553.8" y="739.6" font-size="25.40" font-weight="normal" fill="#f0eefc" textLength="103.6" lengthAdjust="spacingAndGlyphs" stroke="#ffffff" stroke-width="0.4">Engceats</text>
<text x="730.6" y="739.8" font-size="25.40" font-weight="normal" fill="#f0eefc" textLength="156.0" lengthAdjust="spacingAndGlyphs" stroke="#ffffff" stroke-width="0.4">Eosch Tannss</text>
<text x="958.9" y="739.3" font-size="25.40" font-weight="normal" fill="#f4f4fc" textLength="68.1" lengthAdjust="spacingAndGlyphs" stroke="#ffffff" stroke-width="0.4">Boesc</text>
<text x="1098.0" y="739.3" font-size="25.40" font-weight="normal" fill="#f4f4fc" textLength="68.3" lengthAdjust="spacingAndGlyphs" stroke="#ffffff" stroke-width="0.4">Shach</text>
<text x="1214.0" y="756.9" font-size="26.00" font-weight="normal" fill="#6494d4" textLength="143.7" lengthAdjust="spacingAndGlyphs" stroke="#1f5aa0" stroke-width="0.7">AI Generated</text>
<rect x="241.8" y="719.4" width="28.3" height="23.2" rx="1.5" fill="#b848e0"/>
<rect x="512.7" y="719.4" width="28.3" height="23.2" rx="1.5" fill="#f59a48"/>
<rect x="690.0" y="719.4" width="28.3" height="23.2" rx="1.5" fill="#5a68e8"/>
<rect x="916.1" y="719.4" width="28.3" height="23.2" rx="1.5" fill="#58b884"/>
<rect x="1056.8" y="719.4" width="28.3" height="23.2" rx="1.5" fill="#88e4ec"/>
<rect x="1360" y="6" width="8" height="762" fill="#1860c0" opacity="0.22"/>
<rect x="1366" y="6" width="2" height="762" fill="#1650a8" opacity="0.5"/>
</svg></body></html>
